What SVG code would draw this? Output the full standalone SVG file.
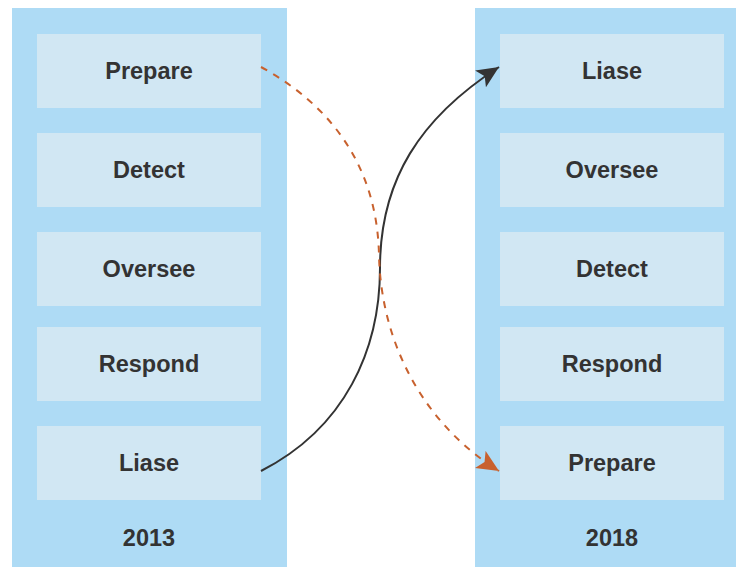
<svg xmlns="http://www.w3.org/2000/svg" width="738" height="567" viewBox="0 0 738 567">
<style>
.col{fill:#AEDBF5}
.box{fill:#D1E7F3}
.t{font-family:"Liberation Sans",Arial,sans-serif;font-weight:bold;font-size:23.5px;fill:#333333;text-anchor:middle}
</style>
<defs>
<marker id="ab" markerUnits="userSpaceOnUse" markerWidth="24" markerHeight="22" refX="22" refY="10" orient="auto">
<path d="M0,0 L22,10 L0,20 L5,10 Z" fill="#333333"/>
</marker>
<marker id="ao" markerUnits="userSpaceOnUse" markerWidth="24" markerHeight="22" refX="22" refY="10" orient="auto">
<path d="M0,0 L22,10 L0,20 L5,10 Z" fill="#C8612E"/>
</marker>
</defs>
<rect width="738" height="567" fill="#FFFFFF"/>
<g id="col2013">
<rect class="col" x="12" y="8" width="275" height="559"/>
<text class="t" x="149" y="546">2013</text>
</g>
<g id="col2018">
<rect class="col" x="475" y="8" width="261" height="559"/>
<text class="t" x="612" y="546">2018</text>
</g>
<g id="l-prepare"><rect class="box" x="37" y="34" width="224" height="74"/><text class="t" x="149" y="79">Prepare</text></g>
<g id="l-detect"><rect class="box" x="37" y="133" width="224" height="74"/><text class="t" x="149" y="178">Detect</text></g>
<g id="l-oversee"><rect class="box" x="37" y="232" width="224" height="74"/><text class="t" x="149" y="277">Oversee</text></g>
<g id="l-respond"><rect class="box" x="37" y="327" width="224" height="74"/><text class="t" x="149" y="372">Respond</text></g>
<g id="l-liase"><rect class="box" x="37" y="426" width="224" height="74"/><text class="t" x="149" y="471">Liase</text></g>
<g id="r-liase"><rect class="box" x="500" y="34" width="224" height="74"/><text class="t" x="612" y="79">Liase</text></g>
<g id="r-oversee"><rect class="box" x="500" y="133" width="224" height="74"/><text class="t" x="612" y="178">Oversee</text></g>
<g id="r-detect"><rect class="box" x="500" y="232" width="224" height="74"/><text class="t" x="612" y="277">Detect</text></g>
<g id="r-respond"><rect class="box" x="500" y="327" width="224" height="74"/><text class="t" x="612" y="372">Respond</text></g>
<g id="r-prepare"><rect class="box" x="500" y="426" width="224" height="74"/><text class="t" x="612" y="471">Prepare</text></g>
<g id="connectors" fill="none">
<path d="M261,471 C345,428 380,350 380,268 C380,180 420,118 499,67" stroke="#333333" stroke-width="2" marker-end="url(#ab)"/>
<path d="M261,67 C330,105 377,165 379,255 C381,345 425,425 499,471" stroke="#C8612E" stroke-width="2" stroke-dasharray="7,7" marker-end="url(#ao)"/>
</g>
</svg>
